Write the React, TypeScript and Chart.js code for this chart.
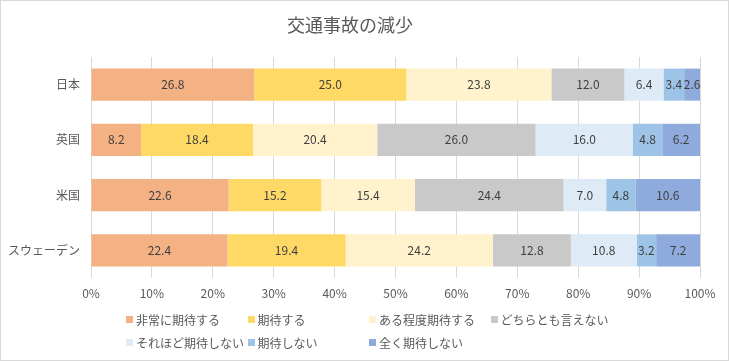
import React, { useEffect, useRef } from "react";
import { Chart, registerables } from "chart.js";

Chart.register(...registerables);

const categories = ["日本", "英国", "米国", "スウェーデン"];
const seriesNames = [
  "非常に期待する",
  "期待する",
  "ある程度期待する",
  "どちらとも言えない",
  "それほど期待しない",
  "期待しない",
  "全く期待しない",
];
const s1 = [26.8, 8.2, 22.6, 22.4];
const s2 = [25.0, 18.4, 15.2, 19.4];
const s3 = [23.8, 20.4, 15.4, 24.2];
const s4 = [12.0, 26.0, 24.4, 12.8];
const s5 = [6.4, 16.0, 7.0, 10.8];
const s6 = [3.4, 4.8, 4.8, 3.2];
const s7 = [2.6, 6.2, 10.6, 7.2];
const seriesValues = [s1, s2, s3, s4, s5, s6, s7];
const colors = ["#F4B183", "#FFD966", "#FFF2CC", "#C9C9C9", "#DEEBF7", "#9DC3E6", "#8FAADC"];
const title = "交通事故の減少";

const FONT = "'Noto Sans CJK JP', 'Noto Sans', sans-serif";

const labelPlugin = {
  id: "barLabels",
  afterDatasetsDraw(chart: any) {
    const ctx = chart.ctx;
    ctx.save();
    ctx.font = `12px ${FONT}`;
    ctx.fillStyle = "#404040";
    ctx.textAlign = "center";
    ctx.textBaseline = "middle";
    chart.data.datasets.forEach((ds: any, i: number) => {
      const meta = chart.getDatasetMeta(i);
      meta.data.forEach((el: any, j: number) => {
        const v = ds.data[j];
        const x = (el.x + el.base) / 2;
        ctx.fillText(Number(v).toFixed(1), x, el.y);
      });
    });
    ctx.restore();
  },
};

export default function App() {
  const ref = useRef<HTMLCanvasElement>(null);
  useEffect(() => {
    if (!ref.current) return;
    const chart = new Chart(ref.current, {
      type: "bar",
      data: {
        labels: categories,
        datasets: seriesValues.map((d, i) => ({
          label: seriesNames[i],
          data: d,
          backgroundColor: colors[i],
          borderWidth: 0,
          categoryPercentage: 1,
          barPercentage: 0.58,
        })),
      },
      options: {
        indexAxis: "y",
        responsive: false,
        animation: false,
        layout: { padding: { left: 0, right: 29, top: 0, bottom: 59 } },
        plugins: {
          legend: { display: false },
          tooltip: { enabled: false },
          title: {
            display: true,
            text: title,
            color: "#595959",
            font: { family: FONT, size: 18, weight: "normal" },
            padding: { top: 14, bottom: 21.4 },
          },
        },
        scales: {
          x: {
            stacked: true,
            min: 0,
            max: 100,
            border: { display: false },
            grid: { color: "#D9D9D9", drawTicks: false },
            ticks: {
              stepSize: 10,
              padding: 8,
              color: "#595959",
              font: { family: FONT, size: 12 },
              callback: (v: any) => `${v}%`,
            },
            afterFit: (s: any) => {
              s.height = 24;
            },
          },
          y: {
            stacked: true,
            border: { display: false },
            grid: { display: false, drawTicks: false },
            ticks: {
              padding: 11,
              color: "#595959",
              font: { family: FONT, size: 12 },
            },
            afterFit: (s: any) => {
              s.width = 91;
            },
          },
        },
      },
      plugins: [labelPlugin],
    } as any);
    return () => chart.destroy();
  }, []);

  return (
    <div style={{ position: "absolute", left: 0, top: 0, width: 729, height: 361, background: "#fff", fontFamily: FONT }}>
      <canvas ref={ref} width={729} height={361} style={{ position: "absolute", left: 0, top: 0 }} />
      <div
        style={{
          position: "absolute",
          left: 0,
          top: 0,
          width: 729,
          height: 361,
          boxSizing: "border-box",
          border: "1px solid #D9D9D9",
          pointerEvents: "none",
        }}
      />
      {seriesNames.map((name, i) => {
        const col = i % 4;
        const row = Math.floor(i / 4);
        const left = 126 + col * 121.5;
        const cy = 319 + row * 23;
        return (
          <div
            key={name}
            style={{
              position: "absolute",
              left,
              top: cy - 9,
              height: 18,
              display: "flex",
              alignItems: "center",
              whiteSpace: "nowrap",
              fontSize: 12,
              color: "#595959",
            }}
          >
            <span style={{ display: "inline-block", width: 7, height: 7, background: colors[i], marginRight: 3 }} />
            <span>{name}</span>
          </div>
        );
      })}
    </div>
  );
}
